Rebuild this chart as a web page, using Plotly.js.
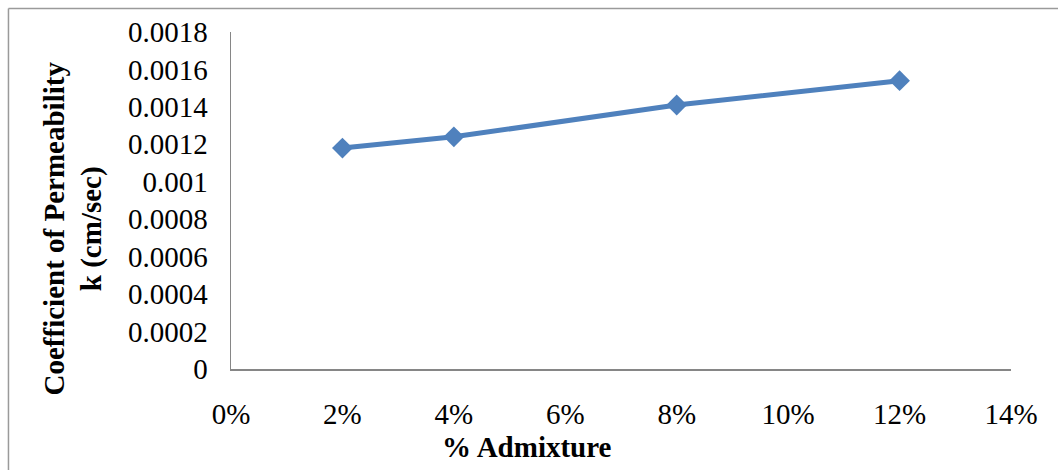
<!DOCTYPE html>
<html>
<head>
<meta charset="utf-8">
<script src="https://cdn.plot.ly/plotly-3.0.1.min.js"></script>
<style>
  html, body { margin: 0; padding: 0; background: #ffffff; }
  #chart { width: 1058px; height: 470px; }
</style>
</head>
<body>
<div id="chart"></div>
<script>
// Admixture content (fraction) and measured permeability k (cm/sec)
const admixture = [0.02, 0.04, 0.08, 0.12];
const permeability = [0.00118, 0.00124, 0.00141, 0.00154];

// Axis ticks
const xTickVals = [0, 0.02, 0.04, 0.06, 0.08, 0.10, 0.12, 0.14];
const xTickText = ['0%', '2%', '4%', '6%', '8%', '10%', '12%', '14%'];
const yTickVals = [0, 0.0002, 0.0004, 0.0006, 0.0008, 0.001, 0.0012, 0.0014, 0.0016, 0.0018];
const yTickText = ['0', '0.0002', '0.0004', '0.0006', '0.0008', '0.001', '0.0012', '0.0014', '0.0016', '0.0018'];

const serif = '"Times New Roman", "Liberation Serif", serif';
const axisGrey = '#868686';

const trace = {
  x: admixture,
  y: permeability,
  type: 'scatter',
  mode: 'lines+markers',
  line: { color: '#4F81BD', width: 5 },
  marker: { symbol: 'diamond', size: 16, color: '#4F81BD' },
  hoverinfo: 'x+y'
};

const layout = {
  width: 1058,
  height: 470,
  margin: { l: 231, r: 47, t: 32, b: 101 },
  paper_bgcolor: '#ffffff',
  plot_bgcolor: '#ffffff',
  showlegend: false,
  font: { family: serif, size: 29, color: '#000000' },
  xaxis: {
    range: [0, 0.14],
    tickvals: xTickVals,
    ticktext: xTickText,
    showgrid: false,
    zeroline: false,
    showline: true,
    linecolor: axisGrey,
    linewidth: 1.5,
    ticks: '',
    ticklabelstandoff: 19,
    tickfont: { family: serif, size: 29, color: '#000000' }
  },
  yaxis: {
    range: [0, 0.0018],
    tickvals: yTickVals,
    ticktext: yTickText,
    showgrid: false,
    zeroline: false,
    showline: true,
    linecolor: axisGrey,
    linewidth: 1.5,
    ticks: '',
    ticklabelstandoff: 16,
    tickfont: { family: serif, size: 29, color: '#000000' }
  },
  annotations: [
    {
      text: '<b>Coefficient of Permeability</b><br><b>k (cm/sec)</b>',
      xref: 'paper', yref: 'paper',
      x: -0.2026, y: 0.417,
      xanchor: 'center', yanchor: 'middle',
      textangle: -90,
      showarrow: false,
      font: { family: serif, size: 29, color: '#000000' }
    },
    {
      text: '<b>% Admixture</b>',
      xref: 'paper', yref: 'paper',
      x: 0.379, y: -0.2315,
      xanchor: 'center', yanchor: 'middle',
      showarrow: false,
      font: { family: serif, size: 29, color: '#000000' }
    }
  ],
  shapes: [
    // chart area frame (left and top edges; right and bottom fall outside the view)
    {
      type: 'line', xref: 'paper', yref: 'paper',
      x0: -0.2853, x1: -0.2853, y0: -0.35, y1: 1.0697,
      line: { color: '#9a9a9a', width: 1.5 }
    },
    {
      type: 'line', xref: 'paper', yref: 'paper',
      x0: -0.2853, x1: 1.1, y0: 1.0697, y1: 1.0697,
      line: { color: '#9a9a9a', width: 1.5 }
    }
  ]
};

Plotly.newPlot('chart', [trace], layout, { displayModeBar: false, staticPlot: true });
</script>
</body>
</html>
